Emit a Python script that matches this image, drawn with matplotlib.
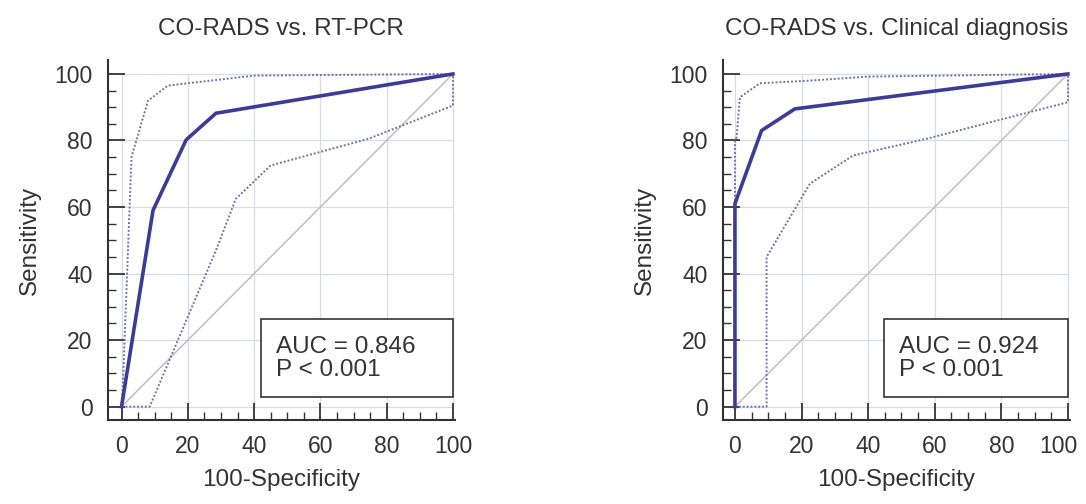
import numpy as np
import matplotlib.pyplot as plt
import matplotlib.transforms as mtransforms
from matplotlib.ticker import MultipleLocator
from matplotlib.patches import Rectangle

plt.rcParams['font.family'] = ['Liberation Sans', 'DejaVu Sans']

# ROC data (x = 100-Specificity, y = Sensitivity)
titles = ['CO-RADS vs. RT-PCR', 'CO-RADS vs. Clinical diagnosis']
auc_text = ['AUC = 0.846\nP < 0.001', 'AUC = 0.924\nP < 0.001']

roc_x_pcr = [0, 9.5, 19.5, 28.5, 100]
roc_y_pcr = [0, 59, 80.2, 88.2, 100]
upper_x_pcr = [0, 0.5, 3, 8, 14, 40, 100]
upper_y_pcr = [0, 9, 75, 92, 96.5, 99.5, 100]
lower_x_pcr = [0, 8.5, 28.5, 34.5, 45, 74.5, 100, 100]
lower_y_pcr = [0, 0, 47, 62.5, 72.5, 80.5, 90.5, 100]

roc_x_clin = [0, 0, 8, 18, 100]
roc_y_clin = [0, 61, 83, 89.5, 100]
upper_x_clin = [0, 0, 0.5, 1.5, 7.5, 22.5, 40, 100]
upper_y_clin = [0, 80, 81, 93, 97.2, 98, 99.2, 100]
lower_x_clin = [0, 9.5, 9.5, 22.5, 35.5, 57.5, 100, 100]
lower_y_clin = [0, 0, 45, 67, 75.5, 80.5, 91.5, 100]

ticks = [0, 20, 40, 60, 80, 100]

curves = [
    (roc_x_pcr, roc_y_pcr, upper_x_pcr, upper_y_pcr, lower_x_pcr, lower_y_pcr),
    (roc_x_clin, roc_y_clin, upper_x_clin, upper_y_clin, lower_x_clin, lower_y_clin),
]

fig = plt.figure(figsize=(10.86, 5.04), dpi=100)
axes_rects = [[0.0994, 0.1667, 0.3195, 0.7143], [0.6657, 0.1667, 0.3195, 0.7143]]
xlims = [(-4.1, 100.6), (-3.6, 100.6)]

txt = '#333333'
for i, rect in enumerate(axes_rects):
    ax = fig.add_axes(rect)
    rx, ry, ux, uy, lx, ly = curves[i]

    # grid only over the 0-100 range
    ax.hlines(ticks, 0, 100, color='#d9dbe6', lw=0.9, zorder=0)
    ax.vlines(ticks, 0, 100, color='#d9dbe6', lw=0.9, zorder=0)

    ax.plot([0, 100], [0, 100], color='#c9b3ba', lw=1.0, zorder=1)
    ax.plot(ux, uy, color='#7272a8', lw=1.4, ls=(0, (1, 1)), zorder=2)
    ax.plot(lx, ly, color='#7272a8', lw=1.4, ls=(0, (1, 1)), zorder=2)
    ax.plot(rx, ry, color='#3c3c96', lw=2.6, zorder=3, solid_joinstyle='round')

    ax.set_xlim(*xlims[i])
    ax.set_ylim(-4.0, 104.2)
    ax.set_xticks(ticks)
    ax.set_yticks(ticks)
    ax.xaxis.set_minor_locator(MultipleLocator(5))
    ax.yaxis.set_minor_locator(MultipleLocator(5))
    ax.tick_params(which='major', direction='in', length=12, width=1.3,
                   colors='#333333', labelsize=16.5, pad=11)
    ax.tick_params(which='minor', direction='in', length=6, width=1.0,
                   colors='#333333')
    for s in ['top', 'right']:
        ax.spines[s].set_visible(False)
    for s in ['left', 'bottom']:
        ax.spines[s].set_linewidth(1.5)
        ax.spines[s].set_color('#333333')

    ax.set_title(titles[i], fontsize=17.5, color=txt, pad=18)
    ax.set_xlabel('100-Specificity', fontsize=17.5, color=txt, labelpad=8)
    ax.set_ylabel('Sensitivity', fontsize=17.5, color=txt, labelpad=10)

    box_x0 = 42 if i == 0 else 44.7
    ax.add_patch(Rectangle((box_x0, 3), 100 - box_x0, 23.5, fill=True,
                           facecolor='white', edgecolor='#333333', lw=1.2, zorder=4))
    ax.text(box_x0 + 4.5, 14.5, auc_text[i], fontsize=17.5, color=txt,
            va='center', ha='left', linespacing=1.1, zorder=5)

    if i == 1:
        # last x label sits a bit left so it stays inside the figure
        lab = ax.get_xticklabels()[-1]
        lab.set_transform(lab.get_transform() +
                          mtransforms.ScaledTranslation(-10 / 100, 0, fig.dpi_scale_trans))

fig.savefig('out.png', dpi=100)
